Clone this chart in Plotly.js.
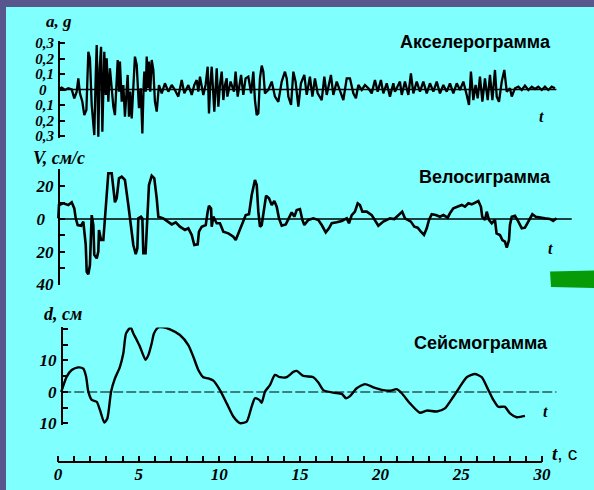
<!DOCTYPE html>
<html><head><meta charset="utf-8">
<script src="https://cdn.plot.ly/plotly-3.0.1.min.js"></script>
<style>
html,body{margin:0;padding:0;width:594px;height:490px;overflow:hidden;background:#57578d;}
#chart{position:absolute;left:6px;top:7px;width:588px;height:483px;}
</style></head><body><div id="chart"></div>
<script>
// ---------------- data (t in seconds) ----------------
const accelPoints = [[0.06,0.003],[0.23,0.012],[0.43,-0.003],[0.64,0.008],[0.85,0.001],[1.01,-0.057],[1.16,-0.014],[1.26,0.072],[1.36,-0.025],[1.51,-0.079],[1.63,-0.165],[1.76,-0.132],[1.88,0.244],[1.98,0.201],[2.09,-0.1],[2.25,-0.294],[2.34,0.094],[2.40,0.287],[2.50,-0.304],[2.58,0.137],[2.67,0.276],[2.75,-0.272],[2.87,0.244],[2.96,-0.035],[3.02,0.201],[3.12,-0.079],[3.22,0.137],[3.33,-0.014],[3.43,-0.111],[3.53,-0.165],[3.62,0.029],[3.70,0.19],[3.78,-0.014],[3.84,0.18],[3.95,-0.079],[4.05,0.029],[4.15,-0.175],[4.24,0.008],[4.32,0.094],[4.40,-0.175],[4.48,-0.014],[4.57,-0.186],[4.67,0.051],[4.77,0.212],[4.88,0.158],[4.96,-0.014],[5.02,-0.121],[5.13,0.008],[5.23,-0.283],[5.31,0.029],[5.35,0.115],[5.44,-0.014],[5.50,0.212],[5.58,0.008],[5.64,0.18],[5.72,-0.014],[5.81,0.19],[5.91,0.126],[6.01,-0.079],[6.12,-0.143],[6.26,0.029],[6.43,-0.025],[6.63,0.04],[6.84,-0.014],[7.05,0.029],[7.25,-0.003],[7.46,-0.046],[7.67,0.061],[7.83,-0.025],[8.08,0.029],[8.29,-0.035],[8.45,0.029],[8.60,0.061],[8.70,-0.014],[8.80,0.083],[9.01,-0.035],[9.15,0.029],[9.28,0.147],[9.36,-0.154],[9.44,0.029],[9.53,0.147],[9.69,-0.143],[9.77,0.029],[9.84,0.137],[9.94,-0.111],[10.04,0.029],[10.15,0.115],[10.25,-0.068],[10.35,0.029],
[10.46,0.072],[10.50,-0.046],[10.70,0.051],[10.91,-0.014],[11.01,0.115],[11.14,-0.046],[11.35,0.094],[11.49,-0.035],[11.63,0.072],[11.80,0.083],[11.97,-0.025],[12.11,0.115],[12.21,-0.068],[12.32,-0.165],[12.42,-0.154],[12.52,0.072],[12.63,0.154],[12.73,0.115],[12.83,-0.025],[13.04,-0.003],[13.25,0.051],[13.45,-0.046],[13.66,-0.079],[13.87,0.051],[14.07,0.115],[14.18,0.072],[14.28,-0.046],[14.45,-0.1],[14.59,0.115],[14.73,0.051],[14.90,-0.111],[15.06,0.04],[15.27,0.094],[15.42,-0.035],[15.62,0.083],[15.77,-0.046],[15.93,0.072],[16.10,-0.025],[16.35,-0.068],[16.51,0.083],[16.66,-0.035],[16.92,0.094],[17.07,-0.035],[17.28,0.051],[17.48,-0.014],[17.69,-0.068],[17.90,0.072],[18.10,0.072],[18.31,-0.025],[18.47,-0.057],[18.62,0.029],[18.83,-0.003],[19.03,0.029],[19.24,0.008],[19.45,-0.025],[19.65,0.061],[19.82,-0.014],[20.02,0.061],[20.17,-0.025],[20.38,0.04],[20.58,-0.046],[20.79,0.04],[20.89,-0.014],[21.10,0.029],
[21.20,0.051],[21.31,-0.035],[21.51,0.051],[21.72,-0.035],[21.88,0.104],[22.03,-0.025],[22.24,0.051],[22.44,-0.014],[22.65,0.051],[22.86,-0.025],[23.06,0.04],[23.27,-0.014],[23.48,0.051],[23.68,-0.025],[23.89,0.029],[24.10,-0.014],[24.30,0.04],[24.51,-0.025],[24.72,0.04],[24.92,-0.003],[25.13,0.051],[25.34,-0.035],[25.48,-0.1],[25.60,0.115],[25.75,-0.068],[25.89,0.029],[26.02,-0.057],[26.16,0.083],[26.31,-0.079],[26.47,0.072],[26.64,-0.068],[26.78,0.094],[26.93,-0.068],[27.09,0.126],[27.20,-0.046],[27.34,-0.079],[27.51,0.051],[27.67,0.126],[27.82,-0.014],[28.02,0.008],[28.13,-0.046],[28.33,0.008],[28.54,0.018],[28.75,-0.003],[28.95,0.025],[29.16,-0.003],[29.37,0.018],[29.57,0.003],[29.78,0.018],[29.99,-0.003],[30.19,0.018],[30.40,-0.003],[30.61,0.018],[30.81,0.008]];

const velocityPoints = [[0.02,0.4],[0.06,8.6],[0.33,9.6],[0.64,8.6],[0.85,10.2],[1.01,6.5],[1.1,0.4],[1.22,-3.7],[1.43,-4.1],[1.57,-1.6],[1.72,-15.9],[1.78,-32.3],[1.88,-33.9],[1.98,-28.2],[2.05,-7.8],[2.09,2.4],[2.19,-3.7],[2.25,-22],[2.4,-24.1],[2.5,-20],[2.54,-6.7],[2.67,-12.9],[2.81,-12.9],[2.91,0.4],[3.02,12.7],[3.12,28],[3.33,28],[3.43,16.7],[3.53,10.2],[3.64,12.7],[3.78,24.9],[3.95,25.9],[4.15,23.9],[4.36,8.6],[4.53,-3.7],[4.67,-15.9],[4.82,-21.6],[4.92,-17.9],[4.98,0.4],[5.15,1.4],[5.23,0.4],[5.29,-21],[5.43,-21],[5.52,0.4],[5.64,20.8],[5.81,26.5],[5.97,24.9],[6.12,12.7],[6.22,1.4],[6.53,0.4],[6.84,-1.6],[7.05,-3.3],[7.3,-2],[7.56,-4.7],[7.87,-6.7],[8.08,-5.7],[8.29,-9.8],[8.45,-15.9],[8.66,-15.5],[8.74,-7.8],[8.91,-4.7],[9.16,-3.7],[9.28,4.5],[9.36,8.1],[9.49,6.5],[9.53,-4.7],[9.63,1.4],[9.84,-2.6],[10.04,-2.6],[10.25,-7.8],[10.56,-8.8],[10.87,-10.8],[11.02,-12.9],[11.14,-9.8],[11.28,-6.7],[11.49,-0.6],[11.64,2.4],[11.84,2.9],[12.01,14.7],[12.21,23.9],[12.32,20.8],[12.42,4.5],[12.52,-4.7],[12.63,-3.7],[12.79,8.6],[12.9,14.3],[13.08,12.7],[13.25,8.6],[13.41,11],[13.56,7.5],[13.7,0.4],[13.87,-4.1],[14.12,-3.3],[14.28,0.4],[14.49,4.1],[14.65,1.4],[14.8,5.5],[15.0,6.1],[15.15,-0.6],[15.27,-3.7],
[15.52,-0.6],[15.83,0.4],[16.14,-0.6],[16.35,-3.7],[16.6,-8.2],[16.8,-5.7],[16.97,-2.6],[17.28,-2],[17.59,-1.2],[17.9,0.4],[18.04,-2.6],[18.21,2.4],[18.41,4.5],[18.58,9.6],[18.72,8.6],[18.87,4.5],[19.14,4.5],[19.45,2.4],[19.65,-0.6],[19.86,-4.1],[20.17,-1.6],[20.58,0.4],[20.85,0],[21.1,2.4],[21.34,4.5],[21.51,0.4],[21.72,-0.6],[21.88,-1.6],[22.09,-4.7],[22.3,-5.3],[22.5,-7.8],[22.69,-9.8],[22.86,-5.7],[23.0,-0.6],[23.17,2.9],[23.42,2.4],[23.68,1.4],[23.89,2.4],[24.16,0.8],[24.3,3.5],[24.51,6.5],[24.78,7.5],[25.03,8.6],[25.23,7.5],[25.44,9.6],[25.65,9],[25.85,10.2],[26.06,11],[26.22,7.5],[26.3,1.4],[26.47,-0.6],[26.58,4.5],[26.72,-0.6],[26.89,-2.6],[27.09,-0.6],[27.19,-8.8],[27.4,-9.8],[27.55,-12.9],[27.71,-13.9],[27.82,-17.6],[27.96,-12.9],[28.02,-3.7],[28.13,1.4],[28.33,2],[28.54,-1.6],[28.75,-5.7],[28.95,-5.3],[29.2,-0.6],[29.41,2.9],[29.62,1.4],[29.88,0.8],[30.19,0.4],[30.5,0],[30.7,-1.2],[30.91,0.4]];

const displacementPoints = [[0.2,0],[0.54,4.9],[0.85,7],[1.26,7.8],[1.57,7.4],[1.74,4.9],[1.88,0.1],[2.09,-2.5],[2.4,-3.1],[2.6,-5.7],[2.87,-9.7],[3.06,-8.4],[3.29,0.1],[3.53,4.3],[3.84,8],[4.05,12.3],[4.22,18.6],[4.5,20.5],[4.67,18.6],[4.88,16.5],[5.08,14.4],[5.43,10.2],[5.6,11.7],[5.81,15.5],[5.95,18.6],[6.22,20.5],[6.53,20.5],[6.94,19.9],[7.56,18.1],[8.08,14.9],[8.39,11.2],[8.7,7],[9.01,4.7],[9.32,4.3],[9.63,3.6],[10.04,0.6],[10.46,-3.6],[10.87,-7.8],[11.28,-9.9],[11.7,-9.4],[12.0,-4.7],[12.21,-2],[12.48,-2.5],[12.63,-3.4],[12.83,0.1],[13.14,2.2],[13.45,5.4],[13.76,4.7],[14.18,4.7],[14.59,6.4],[14.8,6.7],[15.21,5.1],[15.83,4.7],[16.14,3],[16.45,0.6],[17.07,-0.2],[17.59,-0.6],[17.86,-2],[18.1,-1.3],[18.52,1.2],[19.03,2.5],[19.55,1.5],[20.17,0.6],[20.58,0.4],[21.0,0.9],[21.31,-0.4],[21.82,-3.6],[22.44,-6.6],[22.86,-5.9],[23.48,-6.2],[23.99,-5.2],[24.51,-1.5],[24.92,1.7],[25.34,4.7],[25.85,5.7],[26.27,4.7],[26.58,1.7],[26.99,-2.5],[27.3,-4.7],[27.71,-4.7],[28.02,-6.8],[28.44,-8],[28.95,-7.6]];

const accelZeroSpan = [0, 30.9];
const velocityZeroSpan = [0, 31.85];
const displacementZeroSpan = [0.2, 30.9];

const timeTicks = [0,1,2,3,4,5,6,7,8,9,10,11,12,13,14,15,16,17,18,19,20,21,22,23,24,25,26,27,28,29,30];
const timeTickLabels = timeTicks.map(t => t % 5 === 0 ? String(t) : '');
const accelTicks = [-0.3,-0.2,-0.1,0,0.1,0.2,0.3];
const accelTickLabels = ['0,3','0,2','0,1','0\u2007','0,1','0,2','0,3'];
const velocityTicks = [-40,-30,-20,-10,0,10,20,30];
const velocityTickLabels = ['40','','20','','0\u2007','','20',''];
const dispTicks = [-10,-5,0,5,10,15,20];
const dispTickLabels = ['10','','0','','10','',''];

const panelTitles = ['Акселерограмма','Велосиграмма','Сейсмограмма'];
const axisLabels = ['a, g','V, см/с','d, см'];

// ---------------- geometry (page pixels) ----------------
const PAGE_L = 6, PAGE_T = 7, W = 588, H = 483;
const T0_PX = 58, PX_PER_S = 16.13;
const fx = px => (px - PAGE_L) / W;
const fy = py => 1 - (py - PAGE_T) / H;
function yDomain(zeroPx, pxPerUnit, range) {
  return [fy(zeroPx - range[0] * pxPerUnit), fy(zeroPx - range[1] * pxPerUnit)];
}
const accRange = [-0.31, 0.31], velRange = [-40.5, 30.5], dispRange = [-10.5, 20.5];

const xs = p => p.map(d => d[0]);
const ys = p => p.map(d => d[1]);
const black = '#000000';

const traces = [
  {x: accelZeroSpan, y: [0,0], xaxis:'x', yaxis:'y', mode:'lines', line:{color:black, width:1.3}},
  {x: xs(accelPoints), y: ys(accelPoints), xaxis:'x', yaxis:'y', mode:'lines', line:{color:black, width:2.3}},
  {x: velocityZeroSpan, y: [0,0], xaxis:'x', yaxis:'y2', mode:'lines', line:{color:black, width:1.3}},
  {x: xs(velocityPoints), y: ys(velocityPoints), xaxis:'x', yaxis:'y2', mode:'lines', line:{color:black, width:2.6}},
  {x: displacementZeroSpan, y: [0,0], xaxis:'x', yaxis:'y3', mode:'lines', line:{color:black, width:1.2, dash:'10px,3px'}},
  {x: xs(displacementPoints), y: ys(displacementPoints), xaxis:'x', yaxis:'y3', mode:'lines', line:{color:black, width:2.4, shape:'spline', smoothing:0.6}}
];

const serifBI = (size) => ({family:'Liberation Serif, Times New Roman, serif', size:size, weight:'bold', style:'italic', color:black});
const sansB = (size) => ({family:'Liberation Sans, Arial, sans-serif', size:size, weight:'bold', color:black});

function yAxis(domain, range, posPx, tickvals, ticktext, fontSize) {
  return {domain, range, anchor:'free', position: fx(posPx), showline:true, linecolor:black, linewidth:2,
    ticks:'inside', ticklen:5, tickwidth:2, tickcolor:black, tickmode:'array', tickvals, ticktext,
    tickfont: serifBI(fontSize), showgrid:false, zeroline:false, fixedrange:true, ticklabelstandoff:1};
}

const axisY = 462;
const layout = {
  width: W, height: H,
  margin:{l:0,r:0,t:0,b:0,pad:0},
  paper_bgcolor:'#80ffff', plot_bgcolor:'rgba(0,0,0,0)',
  showlegend:false,
  xaxis:{domain:[0,1], range:[(PAGE_L - T0_PX)/PX_PER_S, (PAGE_L + W - T0_PX)/PX_PER_S],
    anchor:'free', position: fy(axisY), showline:false, showgrid:false, zeroline:false,
    ticks:'inside', ticklen:6, tickwidth:2, tickcolor:black, tickmode:'array',
    tickvals: timeTicks, ticktext: timeTickLabels, tickfont: serifBI(17), fixedrange:true},
  yaxis: yAxis(yDomain(89.5, 155, accRange), accRange, 59, accelTicks, accelTickLabels, 15),
  yaxis2: yAxis(yDomain(219, 1.633, velRange), velRange, 59, velocityTicks, velocityTickLabels, 17),
  yaxis3: yAxis(yDomain(392, 3.15, dispRange), dispRange, 62, dispTicks, dispTickLabels, 17),
  shapes:[
    {type:'line', xref:'x', yref:'paper', x0: timeTicks[0], x1: timeTicks[timeTicks.length-1],
      y0: fy(axisY), y1: fy(axisY), line:{color:black, width:2}},
    {type:'path', xref:'paper', yref:'paper',
      path:`M ${fx(550)} ${fy(271.5)} L ${fx(594)} ${fy(270.5)} L ${fx(594)} ${fy(288)} L ${fx(551)} ${fy(287)} Z`,
      fillcolor:'#079b07', line:{width:0}}
  ],
  annotations:[
    {text: panelTitles[0], x: fx(553), y: fy(42), xanchor:'right', yanchor:'middle', font: sansB(18)},
    {text: panelTitles[1], x: fx(553), y: fy(177), xanchor:'right', yanchor:'middle', font: sansB(18)},
    {text: panelTitles[2], x: fx(550), y: fy(343), xanchor:'right', yanchor:'middle', font: sansB(18)},
    {text: axisLabels[0], x: fx(44), y: fy(22), xanchor:'left', yanchor:'middle', font: serifBI(17)},
    {text: axisLabels[1], x: fx(31), y: fy(158), xanchor:'left', yanchor:'middle', font: serifBI(18)},
    {text: axisLabels[2], x: fx(42), y: fy(314), xanchor:'left', yanchor:'middle', font: serifBI(18)},
    {text: 't', x: fx(541), y: fy(116), xanchor:'center', yanchor:'middle', font: serifBI(16)},
    {text: 't', x: fx(550), y: fy(248), xanchor:'center', yanchor:'middle', font: serifBI(16)},
    {text: 't', x: fx(545), y: fy(411), xanchor:'center', yanchor:'middle', font: serifBI(16)},
    {text: '<span style="font-family:Liberation Serif;font-weight:bold;font-style:italic">t</span>, c',
      x: fx(550), y: fy(453), xanchor:'left', yanchor:'middle',
      font:{family:'Liberation Sans, Arial, sans-serif', size:19, color:black}}
  ].map(a => Object.assign({xref:'paper', yref:'paper', showarrow:false}, a))
};

Plotly.newPlot('chart', traces, layout, {staticPlot:true, displayModeBar:false});
</script></body></html>
